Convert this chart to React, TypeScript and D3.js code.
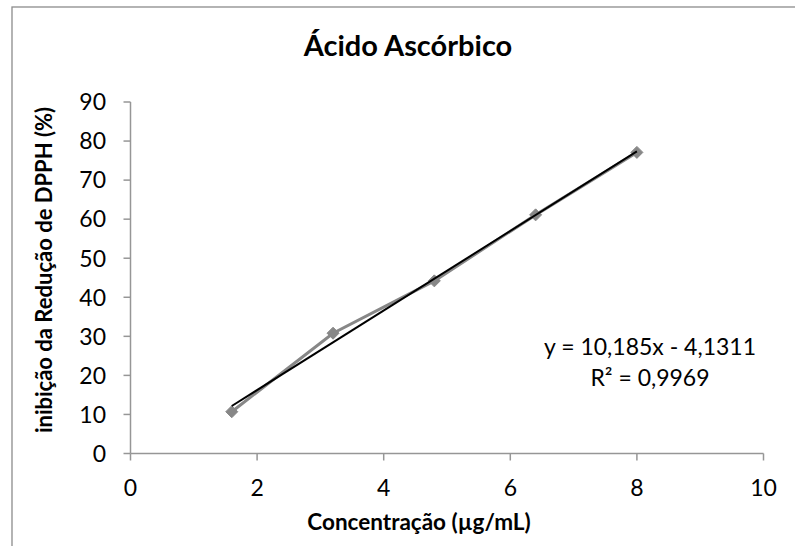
import React from "react";
import * as d3 from "d3";

const concentrations = [1.6, 3.2, 4.8, 6.4, 8.0];
const inhibition = [10.7, 30.8, 44.2, 61.1, 77.1];
const xTicks = [0, 2, 4, 6, 8, 10];
const yTicks = [0, 10, 20, 30, 40, 50, 60, 70, 80, 90];
const slope = 10.185;
const intercept = -4.1311;
const equationText = "y = 10,185x - 4,1311";
const r2Text = "R² = 0,9969";
const title = "Ácido Ascórbico";
const xLabel = "Concentração (µg/mL)";
const yLabel = "inibição da Redução de DPPH (%)";

const W = 795;
const H = 546;
const font = "Lato, 'Open Sans', sans-serif";

export default function App() {
  const x = d3.scaleLinear().domain([0, 10]).range([130.5, 763.5]);
  const y = d3.scaleLinear().domain([0, 90]).range([453.5, 102]);
  const pts = concentrations.map((c, i) => [c, inhibition[i]] as [number, number]);
  const line = d3
    .line<[number, number]>()
    .x((d) => x(d[0]))
    .y((d) => y(d[1]));
  const xMin = d3.min(concentrations)!;
  const xMax = d3.max(concentrations)!;
  const trend: [number, number][] = [
    [xMin, slope * xMin + intercept],
    [xMax, slope * xMax + intercept],
  ];
  const axisColor = "#969696";
  const ms = 6;
  return (
    <svg
      width={W}
      height={H}
      style={{ position: "absolute", left: 0, top: 0, background: "#fff" }}
      fontFamily={font}
    >
      <rect x={12} y={7} width={W + 20} height={H + 20} fill="#fff" stroke="#8c8c8c" strokeWidth={1.3} />
      <text x={408} y={56} textAnchor="middle" fontSize={29} fontWeight="bold" fill="#000">
        {title}
      </text>
      {/* y axis */}
      <line x1={x(0)} x2={x(0)} y1={y(90)} y2={y(0)} stroke={axisColor} strokeWidth={1.5} />
      {yTicks.map((t) => (
        <g key={"y" + t}>
          <line x1={x(0) - 7} x2={x(0)} y1={y(t)} y2={y(t)} stroke={axisColor} strokeWidth={1.5} />
          <text x={106} y={y(t)} dy="0.36em" textAnchor="end" fontSize={23} fill="#000">
            {t}
          </text>
        </g>
      ))}
      {/* x axis */}
      <line x1={x(0)} x2={x(10)} y1={y(0)} y2={y(0)} stroke={axisColor} strokeWidth={1.5} />
      {xTicks.map((t) => (
        <g key={"x" + t}>
          <line x1={x(t)} x2={x(t)} y1={y(0)} y2={y(0) + 7} stroke={axisColor} strokeWidth={1.5} />
          <text x={x(t)} y={496} textAnchor="middle" fontSize={23} fill="#000">
            {t}
          </text>
        </g>
      ))}
      <text x={419} y={530} textAnchor="middle" fontSize={22.5} fontWeight="bold" fill="#000">
        {xLabel}
      </text>
      <text
        transform={`translate(52,270) rotate(-90)`}
        textAnchor="middle"
        fontSize={22}
        fontWeight="bold"
        fill="#000"
      >
        {yLabel}
      </text>
      {/* series */}
      <path d={line(pts) || ""} fill="none" stroke="#878787" strokeWidth={3} />
      {pts.map((p, i) => (
        <path
          key={"m" + i}
          d={`M${x(p[0])},${y(p[1]) - ms}L${x(p[0]) + ms},${y(p[1])}L${x(p[0])},${y(p[1]) + ms}L${x(p[0]) - ms},${y(p[1])}Z`}
          fill="#878787"
          stroke="#878787"
          strokeWidth={1}
        />
      ))}
      {/* trendline */}
      <path d={line(trend) || ""} fill="none" stroke="#000" strokeWidth={2} />
      <text x={650} y={355} textAnchor="middle" fontSize={23} fill="#000">
        {equationText}
      </text>
      <text x={650} y={386} textAnchor="middle" fontSize={23} fill="#000">
        {r2Text}
      </text>
    </svg>
  );
}
